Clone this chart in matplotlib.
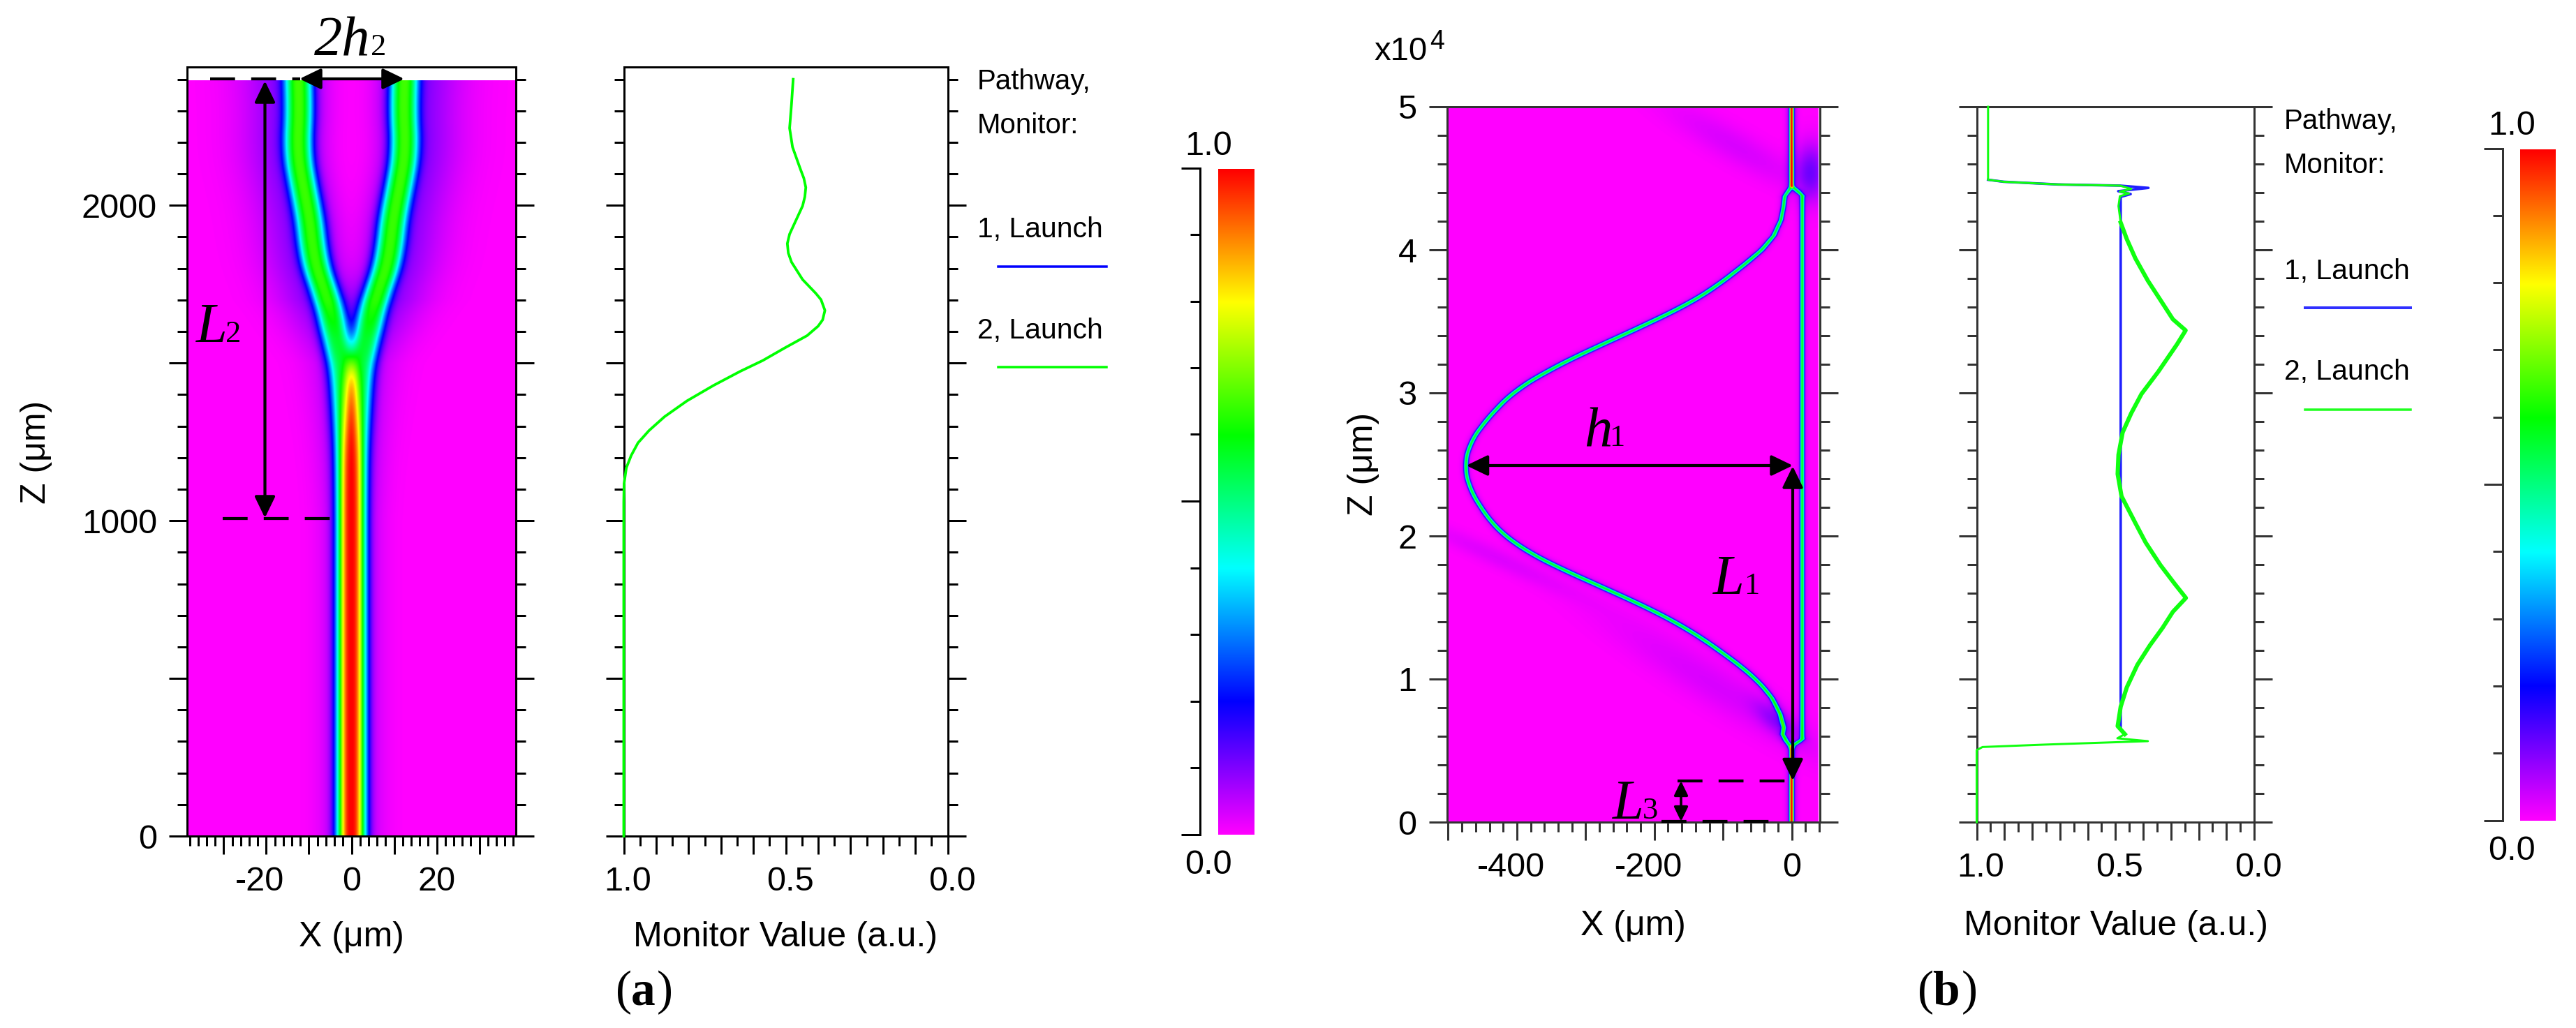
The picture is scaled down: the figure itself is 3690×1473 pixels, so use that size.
import numpy as np
import matplotlib
matplotlib.use('Agg')
import matplotlib.pyplot as plt
from matplotlib.colors import LinearSegmentedColormap
from matplotlib.ticker import MultipleLocator
from matplotlib.transforms import ScaledTranslation

plt.rcParams['font.family'] = ['Liberation Sans', 'DejaVu Sans']

W, H = 3690, 1473
PT = 0.72  # one pixel in points at dpi 100

# rainbow scale of the field maps, value 0 to 1
scale_colors = ['#ff00ff', '#0000ff', '#00ffff', '#00ff00', '#ffff00', '#ff0000']

# (a) monitor curve
a_mon_z = [0, 1059, 1118, 1168, 1207, 1247, 1286, 1330, 1380, 1429, 1474, 1508, 1548, 1587, 1617, 1637, 1667,
           1701, 1721, 1765, 1820, 1849, 1879, 1909, 1938, 1998, 2027, 2057, 2086, 2116, 2185, 2245, 2323, 2400]
a_mon_v = [1.0, 1.0, 0.999, 0.992, 0.977, 0.956, 0.922, 0.874, 0.805, 0.723, 0.640, 0.571, 0.503, 0.434,
           0.400, 0.386, 0.379, 0.391, 0.407, 0.448, 0.482, 0.492, 0.495, 0.488, 0.475, 0.448, 0.441, 0.438,
           0.444, 0.455, 0.479, 0.488, 0.482, 0.477]

# (a) branch centre, right branch, the left one mirrors it
a_path_z = [0, 1000, 1200, 1300, 1400, 1476, 1523, 1578, 1635, 1691, 1771, 1839, 1917, 1996, 2087, 2177, 2301, 2400]
a_path_x = [0, 0.2, 0.6, 1.1, 1.6, 2.05, 2.7, 3.8, 4.5, 5.3, 7.5, 8.9, 9.4, 10.3, 11.7, 12.7, 12.2, 12.5]
a_peak = [0.45, 0.45, 0.45, 0.45, 0.45, 0.45, 0.46, 0.47, 0.5, 0.52, 0.53, 0.53, 0.53, 0.53, 0.53, 0.53, 0.53, 0.53]
a_tail_z = [0, 1000, 1500, 1700, 2400]
a_tail_amp = [0.05, 0.05, 0.06, 0.11, 0.12]
a_tail_w = [6, 6, 8, 11, 12]

# (b) monitor curves, z in units of 1e4
b_green_z = [0, 0.503, 0.525, 0.542, 0.566, 0.586, 0.615, 0.671, 0.807, 0.942, 1.099, 1.235, 1.358, 1.47, 1.567,
             1.662, 1.797, 1.954, 2.09, 2.278, 2.433, 2.568, 2.724, 2.858, 2.993, 3.15, 3.34, 3.437, 3.515,
             3.65, 3.784, 3.94, 4.075, 4.19, 4.306, 4.375, 4.394, 4.407, 4.426, 4.449, 4.457, 4.476, 4.49, 5.0]
b_green_v = [1.0, 1.0, 0.979, 0.753, 0.383, 0.493, 0.466, 0.492, 0.481, 0.459, 0.421, 0.376, 0.33, 0.293, 0.246,
             0.285, 0.338, 0.391, 0.428, 0.478, 0.492, 0.489, 0.474, 0.443, 0.406, 0.345, 0.278, 0.247, 0.293,
             0.338, 0.383, 0.428, 0.459, 0.481, 0.489, 0.484, 0.451, 0.484, 0.443, 0.484, 0.707, 0.903, 0.959, 0.959]
b_blue_z = [0.649, 4.37, 4.39, 4.41, 4.433, 4.449, 4.457, 4.476, 4.49]
b_blue_v = [0.481, 0.481, 0.445, 0.49, 0.381, 0.484, 0.707, 0.903, 0.959]

# (b) waveguide centre lines
b_left_z = [0, 0.5, 0.533, 0.567, 0.613, 0.66, 0.753, 0.869, 0.962, 1.077, 1.192, 1.308, 1.40, 1.494, 1.587, 1.702,
            1.794, 1.887, 1.979, 2.072, 2.188, 2.336, 2.488, 2.64, 2.773, 2.902, 3.012, 3.142, 3.273, 3.403,
            3.513, 3.623, 3.73, 3.862, 3.994, 4.10, 4.21, 4.297, 4.375, 4.42, 4.45, 5.0]
b_left_x = [0, 0, -2.6, -7.8, -13, -11.4, -16.6, -28.5, -44, -70, -103.6, -137, -171, -207, -251, -303,
            -347, -383, -412, -433, -451, -469, -476, -469, -451, -427, -404, -360, -306, -246,
            -197, -150, -114, -78, -44, -26, -15.5, -12, -10, -3.6, 0, 0]
b_right_z = [0, 0.5, 0.533, 0.58, 4.38, 4.45, 5.0]
b_right_x = [0, 0, 2, 15.5, 15.5, 0, 0]
b_peak_z = [0, 0.5, 0.6, 4.35, 4.45, 5.0]
b_peak = [0.45, 0.45, 0.52, 0.52, 0.45, 0.45]

# faint scattered light in (b): centre, amplitude, sizes in pixels, angle
glow_x = [-110, -80, 28, -430, -20]
glow_z = [0.95, 4.72, 4.55, 1.85, 0.7]
glow_amp = [0.03, 0.03, 0.11, 0.025, 0.07]
glow_long = [190, 120, 40, 130, 40]
glow_short = [30, 24, 22, 14, 16]
glow_angle = [148, 150, 90, 155, 140]


def px_axes(fig, left, top, right, bottom):
    return fig.add_axes([left / W, 1 - bottom / H, (right - left) / W, (bottom - top) / H])


def band(x, c, peak, half_width):
    return peak * np.exp(-(np.abs(x - c) / half_width) ** 2.66)


def field_a(xs, zs):
    c = np.interp(zs, a_path_z, a_path_x)
    c = np.convolve(np.pad(c, 30, mode='edge'), np.ones(61) / 61, mode='valid')[:, None]
    p = np.interp(zs, a_path_z, a_peak)[:, None]
    amp = np.interp(zs, a_tail_z, a_tail_amp)[:, None]
    wo = np.interp(zs, a_tail_z, a_tail_w)[:, None]
    f = np.zeros((len(zs), len(xs)))
    for sign in (1, -1):
        d = sign * xs[None, :] - c
        f += band(d, 0, p, 3.3)
        w = np.where(d > 0, wo, np.minimum(wo, 6))
        f += amp * np.exp(-(d / w) ** 2)
    return f


def field_b(xs, zs):
    p = np.interp(zs, b_peak_z, b_peak)[:, None]
    f = np.zeros((len(zs), len(xs)))
    for pz, px in ((b_left_z, b_left_x), (b_right_z, b_right_x)):
        c = np.interp(zs, pz, px)
        # round the read polygon on the long arm, keep the junctions sharp
        soft = np.convolve(np.pad(c, 40, mode='edge'), np.ones(81) / 81, mode='valid')
        k = np.clip((zs - 0.8) / 0.2, 0, 1) * np.clip((4.1 - zs) / 0.2, 0, 1)
        c = k * soft + (1 - k) * c
        slope = np.gradient(c, zs) * 0.985 / 204.8
        slope = np.convolve(slope, np.ones(25) / 25, mode='same')
        hw = 3.1 * np.sqrt(1 + slope ** 2)[:, None]
        d = xs[None, :] - c[:, None]
        f += band(d, 0, p, hw) + 0.05 * np.exp(-(d / (2.2 * hw)) ** 2)
    X, Z = np.meshgrid(xs * 0.985, zs * 204.8)
    for i in range(len(glow_x)):
        t = np.radians(glow_angle[i])
        dx, dz = X - glow_x[i] * 0.985, Z - glow_z[i] * 204.8
        u = dx * np.cos(t) + dz * np.sin(t)
        v = -dx * np.sin(t) + dz * np.cos(t)
        f += glow_amp[i] * np.exp(-(u / glow_long[i]) ** 2 - (v / glow_short[i]) ** 2)
    return f


def frame(ax, color, lw):
    for s in ax.spines.values():
        s.set_color(color)
        s.set_linewidth(lw * PT)
    ax.tick_params(which='major', length=26 * PT, width=lw * PT, color=color, labelsize=35,
                   left=True, right=True, bottom=True, top=False, pad=17 * PT)
    ax.tick_params(which='minor', length=14 * PT, width=lw * PT, color=color,
                   left=True, right=True, bottom=True, top=False)


def nudge_labels(ax, fig, dx, only=None):
    # tick labels sit a few pixels off centre in the original
    off = ScaledTranslation(dx * PT / 72, 0, fig.dpi_scale_trans)
    for lab in ax.get_xticklabels():
        if only is None or lab.get_text() in only:
            lab.set_transform(lab.get_transform() + off)


fig = plt.figure(figsize=(W / 100, H / 100), dpi=100, facecolor='white')
cmap = LinearSegmentedColormap.from_list('rainbow_scale', scale_colors, N=512)

# (a) field map
ax = px_axes(fig, 268, 95.5, 739, 1198)
xs = np.linspace(-38.2, 38.4, 950)
zs = np.linspace(0, 2395, 1100)
ax.imshow(field_a(xs, zs), origin='lower', extent=[-38.2, 38.4, 0, 2395], aspect='auto', cmap=cmap,
          vmin=0, vmax=1, interpolation='bilinear')
ax.set_xlim(-38.6, 38.6)
ax.set_ylim(0, 2440)
ax.set_xticks([-30, -20, -10, 0, 10, 20, 30], ['', '-20', '', '0', '', '20', ''])
ax.set_yticks([0, 500, 1000, 1500, 2000], ['0', '', '1000', '', '2000'])
ax.xaxis.set_minor_locator(MultipleLocator(2))
ax.yaxis.set_minor_locator(MultipleLocator(100))
frame(ax, 'black', 3)
nudge_labels(ax, fig, -9, only=['-20'])

# (a) monitor
ax = px_axes(fig, 893.5, 95.5, 1357.5, 1198)
ax.plot(a_mon_v, a_mon_z, color='#00ff00', lw=3.8 * PT, clip_on=False, zorder=4)
ax.set_xlim(1, 0)
ax.set_ylim(0, 2440)
ax.set_xticks(np.arange(0, 1.01, 0.1), ['0.0', '', '', '', '', '0.5', '', '', '', '', '1.0'])
ax.set_yticks([0, 500, 1000, 1500, 2000], [])
ax.xaxis.set_minor_locator(MultipleLocator(0.05))
ax.yaxis.set_minor_locator(MultipleLocator(100))
frame(ax, 'black', 3)
nudge_labels(ax, fig, 6)

# (b) field map
ax = px_axes(fig, 2072.5, 153, 2607, 1178)
xs = np.linspace(-500, 39, 1500)
zs = np.linspace(0, 5, 2100)
ax.imshow(field_b(xs, zs), origin='lower', extent=[-500, 39, 0, 5], aspect='auto', cmap=cmap,
          vmin=0, vmax=1, interpolation='bilinear')
ax.set_xlim(-502, 41)
ax.set_ylim(0, 5)
ax.set_xticks([-500, -400, -300, -200, -100, 0], ['', '-400', '', '-200', '', '0'])
ax.set_yticks([0, 1, 2, 3, 4, 5], ['0', '1', '2', '3', '4', '5'])
ax.xaxis.set_minor_locator(MultipleLocator(20))
ax.yaxis.set_minor_locator(MultipleLocator(0.2))
frame(ax, '#333333', 3)
nudge_labels(ax, fig, -8, only=['-400', '-200'])

# (b) monitor
ax = px_axes(fig, 2831.5, 153, 3229, 1178)
b_green_z_arr, b_green_v_arr = np.array(b_green_z), np.array(b_green_v)
ax.plot(b_blue_v, b_blue_z, color='#2020ff', lw=3.6 * PT, zorder=3)
ax.plot(b_green_v, b_green_z, color='#10ff10', lw=3 * PT, clip_on=False, zorder=4)
jag = (b_green_z_arr > 0.6) & (b_green_z_arr < 4.3)
ax.plot(b_green_v_arr[jag], b_green_z_arr[jag], color='#10ff10', lw=6 * PT, zorder=4)
ax.set_xlim(1, 0)
ax.set_ylim(0, 5)
ax.set_xticks(np.arange(0, 1.01, 0.1), ['0.0', '', '', '', '', '0.5', '', '', '', '', '1.0'])
ax.set_yticks([0, 1, 2, 3, 4, 5], [])
ax.xaxis.set_minor_locator(MultipleLocator(0.05))
ax.yaxis.set_minor_locator(MultipleLocator(0.2))
frame(ax, '#333333', 3)
nudge_labels(ax, fig, 6)

# colour scales
for left, right, top, bottom, axis_x, color in ((1745, 1797, 242, 1196, 1718.5, 'black'),
                                                (3610, 3661, 214, 1176, 3585, '#333333')):
    cax = px_axes(fig, left, top, right, bottom)
    cax.imshow(np.linspace(0, 1, 512)[:, None], origin='lower', extent=[0, 1, 0, 1], aspect='auto', cmap=cmap,
               vmin=0, vmax=1)
    cax.axis('off')
    sax = px_axes(fig, axis_x, top - 1.5, axis_x + 4, bottom - 0.5)
    sax.patch.set_visible(False)
    sax.set_ylim(0, 1)
    sax.set_xticks([])
    sax.set_yticks([0, 0.5, 1], [])
    sax.yaxis.set_minor_locator(MultipleLocator(0.1))
    for name in ('top', 'right', 'bottom'):
        sax.spines[name].set_visible(False)
    sax.spines['left'].set_color(color)
    sax.spines['left'].set_linewidth(3 * PT)
    sax.tick_params(which='major', length=27 * PT, width=3 * PT, color=color)
    sax.tick_params(which='minor', length=14 * PT, width=3 * PT, color=color)

# pixel overlay for labels and drawn-on arrows
ov = fig.add_axes([0, 0, 1, 1], zorder=10)
ov.set_xlim(0, W)
ov.set_ylim(H, 0)
ov.axis('off')


def label(x, y, s, size=36, ha='left', **kw):
    ov.text(x, y, s, fontsize=size, ha=ha, va='baseline', **kw)


def serif(x, y, s, size=58, style='italic', weight='normal'):
    ov.text(x, y, s, fontsize=size, ha='left', va='baseline', family='Liberation Serif', style=style, weight=weight)


def arrow(x0, y0, x1, y1, lw=4.2, scale=30):
    ov.annotate('', xy=(x1, y1), xytext=(x0, y0),
                arrowprops=dict(arrowstyle='<|-|>,head_length=0.62,head_width=0.3', color='black', lw=lw * PT,
                                shrinkA=0, shrinkB=0, mutation_scale=scale))


def dashed(x0, x1, y):
    ov.plot([x0, x1], [y, y], color='black', lw=4.2 * PT, dashes=(8.5, 5.5), dash_capstyle='butt')


for xc, name in ((503, 'X (\u03bcm)'), (1125, 'Monitor Value (a.u.)'), (2339, 'X (\u03bcm)'), (3031, 'Monitor Value (a.u.)')):
    label(xc, 1356 if xc < 2000 else 1340, name, ha='center')
label(49 + 16, 648, 'Z (\u03bcm)', ha='center', rotation=90, rotation_mode='anchor')
label(1950 + 16, 665, 'Z (\u03bcm)', ha='center', rotation=90, rotation_mode='anchor')
label(1968, 86, 'x10', size=34)
label(2048, 70, '4', size=27)

for x, yb in ((1400, (128, 191, 340, 485)), (3272, (185, 248, 400, 544))):
    label(x, yb[0], 'Pathway,', size=29)
    label(x, yb[1], 'Monitor:', size=29)
    label(x, yb[2], '1, Launch', size=29.5)
    label(x, yb[3], '2, Launch', size=29.5)
ov.plot([1430, 1585], [382, 382], color='#0000ff', lw=3.5 * PT)
ov.plot([1430, 1585], [526, 526], color='#00ff00', lw=3.5 * PT)
ov.plot([3302, 3453], [441, 441], color='#3030ff', lw=4 * PT)
ov.plot([3302, 3453], [587, 587], color='#20ff20', lw=3.5 * PT)

label(1731, 222, '1.0', size=35, ha='center')
label(1731, 1252, '0.0', size=35, ha='center')
label(3598, 193, '1.0', size=35, ha='center')
label(3598, 1232, '0.0', size=35, ha='center')

serif(450, 79, '2h')
serif(531, 79, '2', size=32, style='normal')
serif(281, 490, 'L')
serif(323, 490, '2', size=32, style='normal')
serif(2269, 639, 'h')
serif(2305, 639, '1', size=32, style='normal')
serif(2454, 851, 'L')
serif(2498, 851, '1', size=32, style='normal')
serif(2310, 1173, 'L')
serif(2353, 1173, '3', size=32, style='normal')

for x, pieces in ((882, ((0, '('), (22, 'a'), (59, ')'))), (2747, ((0, '('), (21, 'b'), (63, ')')))):
    for dx, s in pieces:
        serif(x + dx, 1439, s, size=50, style='normal', weight='bold' if s.isalpha() else 'normal')

dashed(301, 430, 113)
dashed(319, 476, 743)
arrow(429, 113, 579, 113)
arrow(379.5, 116, 379.5, 742)
arrow(2100.5, 667, 2568, 667)
arrow(2568, 668, 2568, 1118.5)
dashed(2403, 2567, 1119)
dashed(2380, 2539, 1177)
arrow(2408, 1119, 2408, 1177, lw=3.6, scale=20)

fig.savefig('out.png', dpi=100)
